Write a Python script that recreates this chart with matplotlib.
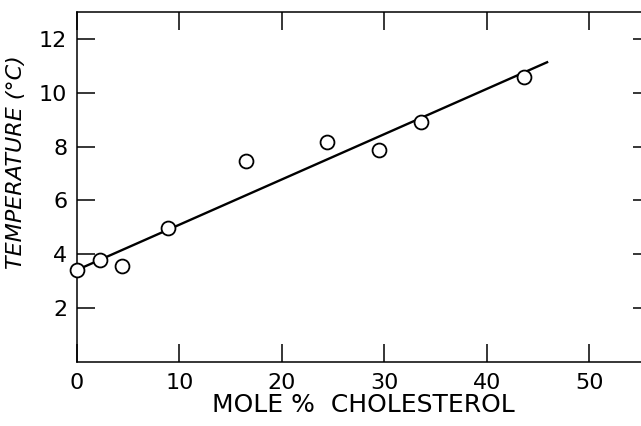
import matplotlib
matplotlib.use("Agg")
import matplotlib.pyplot as plt

# measured points
cholesterol = [0.0, 2.25, 4.4, 8.9, 16.5, 24.4, 29.5, 33.6, 43.6]
temperature = [3.43, 3.80, 3.58, 4.96, 7.47, 8.18, 7.88, 8.93, 10.58]

# drawn straight line (end points)
fit_x = [0.0, 46.0]
fit_y = [3.42, 11.15]

x_ticks = [0, 10, 20, 30, 40, 50]
y_ticks = [2, 4, 6, 8, 10, 12]

plt.rcParams['font.family'] = ['DejaVu Sans']

fig = plt.figure(figsize=(6.41, 4.26), dpi=100)
ax = fig.add_axes([0.120, 0.150, 0.895, 0.822])

ax.plot(fit_x, fit_y, color='black', lw=1.7, zorder=2, solid_capstyle='butt')
ax.plot(cholesterol, temperature, 'o', ms=10, mfc='white', mec='black',
        mew=1.3, zorder=3, clip_on=False)

ax.set_xlim(0, 56)
ax.set_ylim(0, 13)
ax.set_xticks(x_ticks)
ax.set_yticks(y_ticks)

ax.tick_params(direction='in', length=13, width=1.1, labelsize=16,
               top=True, right=True)
ax.tick_params(axis='x', pad=8)
ax.tick_params(axis='y', pad=7)

for s in ax.spines.values():
    s.set_linewidth(1.1)

ax.set_xlabel('MOLE %  CHOLESTEROL', fontsize=18, labelpad=0)
ax.set_ylabel('TEMPERATURE (°C)', fontsize=16, style='italic')
ax.yaxis.set_label_coords(-0.088, 0.57)

fig.savefig('out.png', dpi=100)
